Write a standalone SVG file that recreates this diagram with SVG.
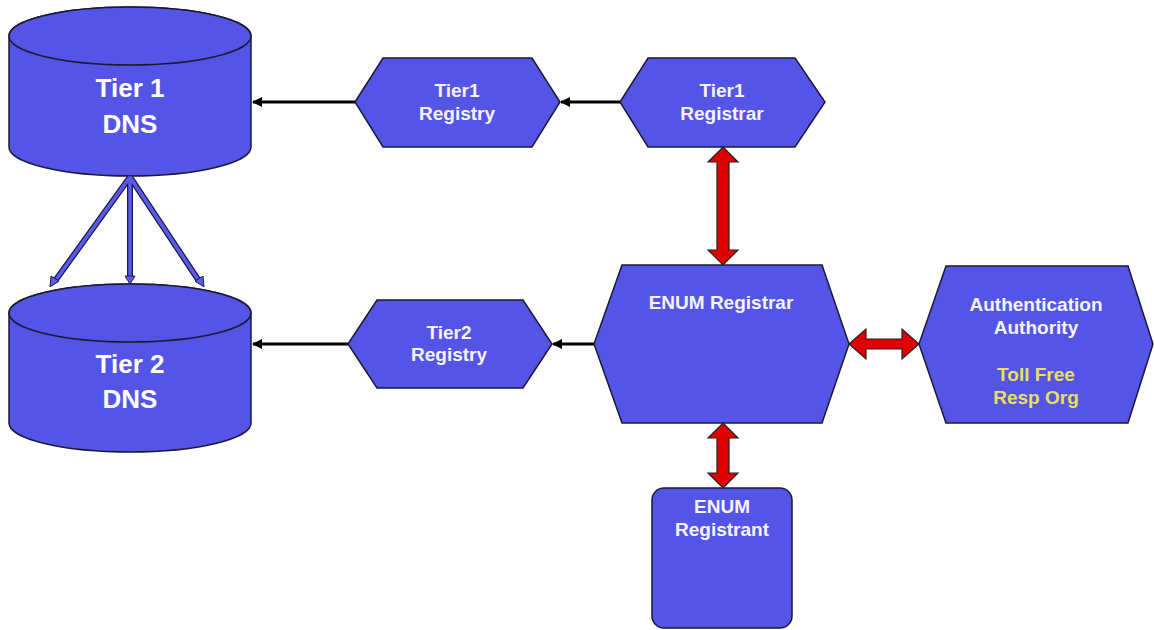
<svg xmlns="http://www.w3.org/2000/svg" width="1154" height="630" viewBox="0 0 1154 630">
<style>
.shape{fill:#5454e6;stroke:#1a1a33;stroke-width:1.5}
.big{font-family:"Liberation Sans",Arial,sans-serif;font-size:26px;font-weight:bold;fill:#fff;text-anchor:middle}
.lbl{font-family:"Liberation Sans",Arial,sans-serif;font-size:19px;font-weight:bold;fill:#f4f4ff;text-anchor:middle}
.yel{font-family:"Liberation Sans",Arial,sans-serif;font-size:19px;font-weight:bold;fill:#e8e060;text-anchor:middle}
.blk{stroke:#000;stroke-width:3;fill:none}
.red{fill:#e00000;stroke:#222;stroke-width:1.2}
.bout{stroke:#1a1a40;stroke-width:6;fill:none}
.bin{stroke:#5a5aee;stroke-width:3.5;fill:none}
</style>
<defs>
<marker id="ah" viewBox="0 0 10 10" refX="9" refY="5" markerWidth="3.5" markerHeight="3.5" orient="auto" markerUnits="strokeWidth">
<path d="M0,0 L10,5 L0,10 Z" fill="#000"/>
</marker>
</defs>
<rect width="1154" height="630" fill="#fff"/>

<g id="tier1-dns">
<path class="shape" d="M9,36 L9,147 A121,29 0 0 0 251,147 L251,36 A121,29 0 0 0 9,36 Z"/>
<ellipse class="shape" cx="130" cy="36" rx="121" ry="29"/>
<text class="big" x="130" y="97">Tier 1</text>
<text class="big" x="130" y="133">DNS</text>
</g>

<g id="tier2-dns">
<path class="shape" d="M9,313 L9,423 A121,29 0 0 0 251,423 L251,313 A121,29 0 0 0 9,313 Z"/>
<ellipse class="shape" cx="130" cy="313" rx="121" ry="29"/>
<text class="big" x="130" y="373">Tier 2</text>
<text class="big" x="130" y="408">DNS</text>
</g>

<g id="tier1-registry">
<polygon class="shape" points="355,102 383,58 532,58 560,102 532,147 383,147"/>
<text class="lbl" x="457" y="97">Tier1</text>
<text class="lbl" x="457" y="120">Registry</text>
</g>

<g id="tier1-registrar">
<polygon class="shape" points="620,102 648,58 795,58 825,102 795,147 648,147"/>
<text class="lbl" x="722" y="97">Tier1</text>
<text class="lbl" x="722" y="120">Registrar</text>
</g>

<g id="tier2-registry">
<polygon class="shape" points="348,344 377,300 523,300 552,344 523,388 377,388"/>
<text class="lbl" x="449" y="339">Tier2</text>
<text class="lbl" x="449" y="361">Registry</text>
</g>

<g id="enum-registrar">
<polygon class="shape" points="594,344 622,265 822,265 849,344 822,423 622,423"/>
<text class="lbl" x="721" y="309">ENUM Registrar</text>
</g>

<g id="authentication-authority">
<polygon class="shape" points="919,344 946,266 1128,266 1153,344 1128,423 946,423"/>
<text class="lbl" x="1036" y="311">Authentication</text>
<text class="lbl" x="1036" y="334">Authority</text>
<text class="yel" x="1036" y="381">Toll Free</text>
<text class="yel" x="1036" y="404">Resp Org</text>
</g>

<g id="enum-registrant">
<rect class="shape" x="652" y="488" width="140" height="140" rx="12" ry="12"/>
<text class="lbl" x="722" y="513">ENUM</text>
<text class="lbl" x="722" y="536">Registrant</text>
</g>

<g id="connectors">
<line class="blk" x1="355" y1="102" x2="253" y2="102" marker-end="url(#ah)"/>
<line class="blk" x1="620" y1="102" x2="561" y2="102" marker-end="url(#ah)"/>
<line class="blk" x1="348" y1="344" x2="253" y2="344" marker-end="url(#ah)"/>
<line class="blk" x1="594" y1="344" x2="553" y2="344" marker-end="url(#ah)"/>

<line class="bout" x1="130" y1="177" x2="55" y2="281"/>
<line class="bout" x1="130" y1="177" x2="130" y2="278"/>
<line class="bout" x1="130" y1="177" x2="199" y2="281"/>
<line class="bin" x1="130" y1="177" x2="55" y2="281"/>
<line class="bin" x1="130" y1="177" x2="130" y2="278"/>
<line class="bin" x1="130" y1="177" x2="199" y2="281"/>
<polygon points="50,287 51,276 59,281" fill="#5a5aee" stroke="#1a1a40" stroke-width="1"/>
<polygon points="130,284 125,276 135,276" fill="#5a5aee" stroke="#1a1a40" stroke-width="1"/>
<polygon points="204,287 195,281 203,276" fill="#5a5aee" stroke="#1a1a40" stroke-width="1"/>

<polygon class="red" points="723,147 738,162 729,162 729,250 738,250 723,265 708,250 717,250 717,162 708,162"/>
<polygon class="red" points="723,423 738,438 729,438 729,473 738,473 723,488 708,473 717,473 717,438 708,438"/>
<polygon class="red" points="849,344 866,329 866,339 902,339 902,329 919,344 902,359 902,349 866,349 866,359"/>
</g>
</svg>
